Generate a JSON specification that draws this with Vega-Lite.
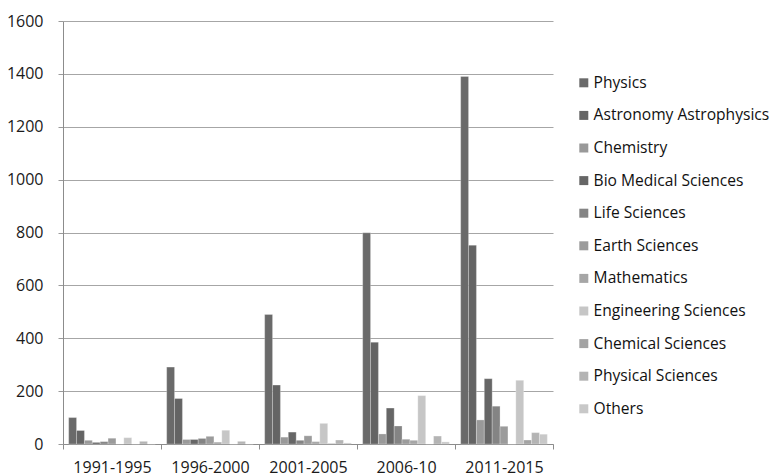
{
  "$schema": "https://vega.github.io/schema/vega-lite/v6.json",
  "autosize": "none",
  "width": 490,
  "height": 423,
  "padding": {"left": 63, "top": 21, "right": 221, "bottom": 32},
  "background": "white",
  "config": {
    "font": "Open Sans",
    "view": {"stroke": null},
    "axis": {"labelFont": "Open Sans", "labelColor": "#1a1a1a", "labelFontSize": 16}
  },
  "data": {
    "values": [
      {"period": "1991-1995", "field": "Physics", "value": 100},
      {"period": "1991-1995", "field": "Astronomy Astrophysics", "value": 51},
      {"period": "1991-1995", "field": "Chemistry", "value": 14},
      {"period": "1991-1995", "field": "Bio Medical Sciences", "value": 6},
      {"period": "1991-1995", "field": "Life Sciences", "value": 9},
      {"period": "1991-1995", "field": "Earth Sciences", "value": 22},
      {"period": "1991-1995", "field": "Mathematics", "value": 0},
      {"period": "1991-1995", "field": "Engineering Sciences", "value": 24},
      {"period": "1991-1995", "field": "Chemical Sciences", "value": 0},
      {"period": "1991-1995", "field": "Physical Sciences", "value": 10},
      {"period": "1991-1995", "field": "Others", "value": 0},

      {"period": "1996-2000", "field": "Physics", "value": 291},
      {"period": "1996-2000", "field": "Astronomy Astrophysics", "value": 172},
      {"period": "1996-2000", "field": "Chemistry", "value": 17},
      {"period": "1996-2000", "field": "Bio Medical Sciences", "value": 17},
      {"period": "1996-2000", "field": "Life Sciences", "value": 21},
      {"period": "1996-2000", "field": "Earth Sciences", "value": 29},
      {"period": "1996-2000", "field": "Mathematics", "value": 7},
      {"period": "1996-2000", "field": "Engineering Sciences", "value": 52},
      {"period": "1996-2000", "field": "Chemical Sciences", "value": 0},
      {"period": "1996-2000", "field": "Physical Sciences", "value": 10},
      {"period": "1996-2000", "field": "Others", "value": 0},

      {"period": "2001-2005", "field": "Physics", "value": 490},
      {"period": "2001-2005", "field": "Astronomy Astrophysics", "value": 223},
      {"period": "2001-2005", "field": "Chemistry", "value": 26},
      {"period": "2001-2005", "field": "Bio Medical Sciences", "value": 45},
      {"period": "2001-2005", "field": "Life Sciences", "value": 14},
      {"period": "2001-2005", "field": "Earth Sciences", "value": 31},
      {"period": "2001-2005", "field": "Mathematics", "value": 9},
      {"period": "2001-2005", "field": "Engineering Sciences", "value": 78},
      {"period": "2001-2005", "field": "Chemical Sciences", "value": 2},
      {"period": "2001-2005", "field": "Physical Sciences", "value": 15},
      {"period": "2001-2005", "field": "Others", "value": 4},

      {"period": "2006-10", "field": "Physics", "value": 799},
      {"period": "2006-10", "field": "Astronomy Astrophysics", "value": 385},
      {"period": "2006-10", "field": "Chemistry", "value": 38},
      {"period": "2006-10", "field": "Bio Medical Sciences", "value": 136},
      {"period": "2006-10", "field": "Life Sciences", "value": 68},
      {"period": "2006-10", "field": "Earth Sciences", "value": 18},
      {"period": "2006-10", "field": "Mathematics", "value": 14},
      {"period": "2006-10", "field": "Engineering Sciences", "value": 183},
      {"period": "2006-10", "field": "Chemical Sciences", "value": 0},
      {"period": "2006-10", "field": "Physical Sciences", "value": 30},
      {"period": "2006-10", "field": "Others", "value": 8},

      {"period": "2011-2015", "field": "Physics", "value": 1390},
      {"period": "2011-2015", "field": "Astronomy Astrophysics", "value": 752},
      {"period": "2011-2015", "field": "Chemistry", "value": 91},
      {"period": "2011-2015", "field": "Bio Medical Sciences", "value": 247},
      {"period": "2011-2015", "field": "Life Sciences", "value": 143},
      {"period": "2011-2015", "field": "Earth Sciences", "value": 67},
      {"period": "2011-2015", "field": "Mathematics", "value": 0},
      {"period": "2011-2015", "field": "Engineering Sciences", "value": 241},
      {"period": "2011-2015", "field": "Chemical Sciences", "value": 15},
      {"period": "2011-2015", "field": "Physical Sciences", "value": 43},
      {"period": "2011-2015", "field": "Others", "value": 37}
    ]
  },
  "mark": {"type": "bar", "stroke": "white", "strokeOpacity": 0.5, "strokeWidth": 0.5},
  "encoding": {
    "x": {
      "field": "period",
      "type": "nominal",
      "sort": null,
      "scale": {"paddingInner": 0, "paddingOuter": 0},
      "axis": {
        "title": null,
        "labelAngle": 0,
        "domainColor": "#8c8c8c",
        "tickColor": "#8c8c8c",
        "tickSize": 5,
        "tickBand": "extent",
        "labelPadding": 10
      }
    },
    "xOffset": {
      "field": "field",
      "type": "nominal",
      "sort": null,
      "scale": {"paddingInner": 0, "paddingOuter": 0.72}
    },
    "y": {
      "field": "value",
      "type": "quantitative",
      "scale": {"domain": [0, 1600], "nice": false},
      "axis": {
        "title": null,
        "format": "d",
        "values": [0, 200, 400, 600, 800, 1000, 1200, 1400, 1600],
        "domainColor": "#8c8c8c",
        "tickColor": "#9a9a9a",
        "tickSize": 5,
        "gridColor": "#a6a6a6",
        "gridWidth": 1,
        "labelPadding": 15
      }
    },
    "color": {
      "field": "field",
      "type": "nominal",
      "sort": null,
      "scale": {
        "domain": ["Physics", "Astronomy Astrophysics", "Chemistry", "Bio Medical Sciences", "Life Sciences", "Earth Sciences", "Mathematics", "Engineering Sciences", "Chemical Sciences", "Physical Sciences", "Others"],
        "range": ["#6a6a6a", "#646464", "#999999", "#666666", "#848484", "#9b9b9b", "#a6a6a6", "#c6c6c6", "#a3a3a3", "#b4b4b4", "#c8c8c8"]
      },
      "legend": {
        "title": null,
        "orient": "none",
        "legendX": 513,
        "legendY": 54,
        "symbolType": "square",
        "symbolSize": 81,
        "symbolStrokeWidth": 0,
        "labelFont": "Open Sans",
        "labelFontSize": 15.6,
        "labelColor": "#111111",
        "labelOffset": 2,
        "rowPadding": 15.6,
        "labelLimit": 300
      }
    }
  }
}
